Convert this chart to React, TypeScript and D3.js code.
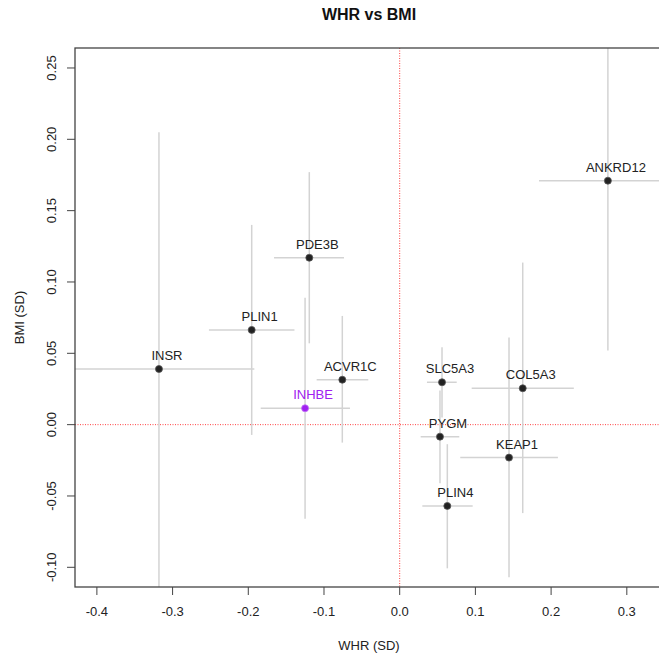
import React from "react";
import { scaleLinear } from "d3";

// gene labels and estimates
const genes = ["ANKRD12", "INSR", "PLIN1", "PDE3B", "INHBE", "ACVR1C", "SLC5A3", "PYGM", "COL5A3", "KEAP1", "PLIN4"];
const whr = [0.275, -0.318, -0.1955, -0.1194, -0.125, -0.0758, 0.0559, 0.0532, 0.1625, 0.1444, 0.0629];
const whrLo = [0.184, -0.444, -0.252, -0.166, -0.1836, -0.1097, 0.036, 0.0277, 0.0951, 0.08, 0.0299];
const whrHi = [0.366, -0.192, -0.139, -0.0736, -0.0657, -0.0415, 0.0753, 0.0787, 0.23, 0.209, 0.0964];
const bmi = [0.171, 0.039, 0.0664, 0.117, 0.0115, 0.0315, 0.0297, -0.0084, 0.0255, -0.0231, -0.057];
const bmiLo = [0.052, -0.127, -0.0072, 0.057, -0.066, -0.0126, 0.005, -0.041, -0.062, -0.107, -0.1007];
const bmiHi = [0.29, 0.205, 0.14, 0.177, 0.089, 0.0762, 0.0543, 0.024, 0.1136, 0.061, -0.0137];
const highlight = "INHBE";

const xTicks = [-0.4, -0.3, -0.2, -0.1, 0.0, 0.1, 0.2, 0.3];
const yTicks = [-0.1, -0.05, 0.0, 0.05, 0.1, 0.15, 0.2, 0.25];

const W = 659, H = 658;
const left = 75, right = 663, top = 48, bottom = 587;
const font = "'Liberation Sans', Arial, Helvetica, sans-serif";

export default function App() {
  const x = scaleLinear().domain([-0.4289, 0.3478]).range([left, right]);
  const y = scaleLinear().domain([-0.1138, 0.264]).range([bottom, top]);
  const purple = "#a020f0";

  return (
    <div style={{ position: "absolute", left: 0, top: 0 }}>
      <svg width={W} height={H} style={{ display: "block", fontFamily: font }}>
        <defs>
          <clipPath id="plotArea">
            <rect x={left} y={top} width={right - left} height={bottom - top} />
          </clipPath>
        </defs>
        <rect width={W} height={H} fill="#fff" />

        <text x={(left + right) / 2} y={20} textAnchor="middle" fontSize={16} fontWeight="bold" fill="#111">
          WHR vs BMI
        </text>

        <g clipPath="url(#plotArea)">
          {/* reference lines at zero */}
          <line x1={x(0)} x2={x(0)} y1={top} y2={bottom} stroke="#ff4040" strokeDasharray="1,1.5" strokeWidth={1} />
          <line x1={left} x2={right} y1={y(0)} y2={y(0)} stroke="#ff4040" strokeDasharray="1,1.5" strokeWidth={1} />

          {/* error bars */}
          {genes.map((g, i) => (
            <g key={"e" + g} stroke="#d3d3d3" strokeWidth={1.5}>
              <line x1={x(whrLo[i])} x2={x(whrHi[i])} y1={y(bmi[i])} y2={y(bmi[i])} />
              <line x1={x(whr[i])} x2={x(whr[i])} y1={y(bmiLo[i])} y2={y(bmiHi[i])} />
            </g>
          ))}

          {/* points and labels */}
          {genes.map((g, i) => {
            const col = g === highlight ? purple : "#222";
            return (
              <g key={"p" + g}>
                <circle cx={x(whr[i])} cy={y(bmi[i])} r={3.5} fill={col} stroke={g === highlight ? "#c070f8" : "#555"} strokeWidth={0.8} />
                <text x={x(whr[i]) + 8} y={y(bmi[i]) - 9} textAnchor="middle" fontSize={13} fill={g === highlight ? purple : "#222"}>
                  {g}
                </text>
              </g>
            );
          })}
        </g>

        {/* box */}
        <rect x={left} y={top} width={right - left} height={bottom - top} fill="none" stroke="#444" strokeWidth={1.3} />

        {/* x axis */}
        {xTicks.map((t) => (
          <g key={"x" + t}>
            <line x1={x(t)} x2={x(t)} y1={bottom} y2={bottom + 8} stroke="#444" strokeWidth={1} />
            <text x={x(t)} y={616} textAnchor="middle" fontSize={13} fill="#222">
              {t.toFixed(1)}
            </text>
          </g>
        ))}
        <text x={(left + right) / 2} y={650} textAnchor="middle" fontSize={13} fill="#222">
          WHR (SD)
        </text>

        {/* y axis */}
        {yTicks.map((t) => (
          <g key={"y" + t}>
            <line x1={left - 8} x2={left} y1={y(t)} y2={y(t)} stroke="#444" strokeWidth={1} />
            <text transform={`translate(56,${y(t)}) rotate(-90)`} textAnchor="middle" fontSize={13} fill="#222">
              {t.toFixed(2)}
            </text>
          </g>
        ))}
        <text transform={`translate(24,${(top + bottom) / 2}) rotate(-90)`} textAnchor="middle" fontSize={13} fill="#222">
          BMI (SD)
        </text>
      </svg>
    </div>
  );
}
